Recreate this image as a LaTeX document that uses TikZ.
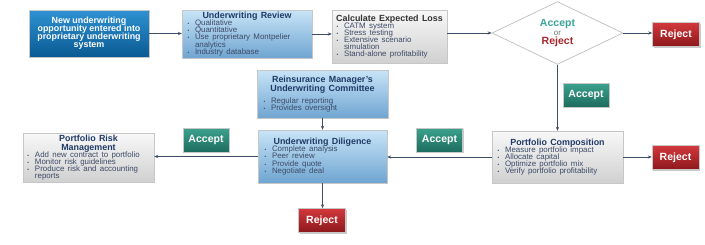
\documentclass[tikz,border=0pt]{standalone}
\usepackage{fontspec}
\setmainfont{Liberation Sans}
\usetikzlibrary{shapes.geometric,arrows.meta,shadows}
\definecolor{dkblueT}{HTML}{2E92D2}
\definecolor{dkblueB}{HTML}{0A5A92}
\definecolor{ltblueT}{HTML}{C8E4F7}
\definecolor{ltblueB}{HTML}{6FA5D1}
\definecolor{grayT}{HTML}{F8F8F8}
\definecolor{grayB}{HTML}{D0D0D0}
\definecolor{tealT}{HTML}{3BA28E}
\definecolor{tealB}{HTML}{1D6C5E}
\definecolor{redT}{HTML}{D2383C}
\definecolor{redB}{HTML}{8C181C}
\definecolor{navy}{HTML}{1F3A66}
\definecolor{bultxt}{HTML}{3C4A66}
\definecolor{linec}{HTML}{3E4D6A}
\definecolor{acctxt}{HTML}{3AA59B}
\definecolor{rejtxt}{HTML}{A8282C}
\lineskiplimit=-20pt
\newcommand{\ttl}[1]{{\centering\lineskiplimit=-20pt\fontsize{8.9}{8.6}\selectfont\bfseries #1\par}}
\newcommand{\itm}[1]{{\fontsize{7.9}{7.1}\selectfont\lineskiplimit=-20pt\hyphenpenalty=10000\hangindent=9pt\hangafter=1\noindent\makebox[9pt][l]{\hspace{1.5pt}\fontsize{5}{5}\selectfont\textbullet}#1\par}}
\begin{document}
\begin{tikzpicture}[x=1pt,y=-1pt,
  base/.style={rectangle, draw=black!22, line width=0.4pt, inner sep=0pt,
    drop shadow={shadow xshift=1.3pt, shadow yshift=-1.3pt, opacity=0.35, fill=black!60}},
  darkbox/.style={base, top color=dkblueT, bottom color=dkblueB, text=white, align=center,
    font=\fontsize{8.9}{8}\selectfont\bfseries},
  lightbox/.style={base, top color=ltblueT, bottom color=ltblueB, text=navy, align=left},
  graybox/.style={base, top color=grayT, bottom color=grayB, text=bultxt, align=left},
  acc/.style={base, top color=tealT, bottom color=tealB, text=white,
    font=\fontsize{10.5}{11}\selectfont\bfseries, minimum width=46pt, minimum height=24pt},
  rej/.style={base, top color=redT, bottom color=redB, text=white,
    font=\fontsize{10.5}{11}\selectfont\bfseries, minimum width=47pt, minimum height=24pt},
  conn/.style={draw=linec, line width=0.6pt, -{Stealth[length=4pt,width=3.2pt]}}
]
\useasboundingbox (0,0) rectangle (705,244);

\node[darkbox, minimum width=120pt, minimum height=47pt] (new) at (89,33.5)
  {New underwriting\\opportunity entered into\\proprietary underwriting\\system};

\node[lightbox, minimum width=130pt, minimum height=48pt, text width=122pt] (rev) at (247,34)
  {\ttl{Underwriting Review}\color{bultxt}\itm{Qualitative}\itm{Quantitative}\itm{Use proprietary Montpelier analytics}\itm{Industry database}};

\node[graybox, minimum width=115pt, minimum height=53pt, text width=109pt] (calc) at (389.5,36.5)
  {\ttl{\color{black!80}Calculate Expected Loss}\itm{CATM system}\itm{Stress testing}\itm{Extensive scenario simulation}\itm{Stand-alone profitability}};

\node[diamond, draw=black!25, line width=0.7pt, fill=white, minimum width=131pt, minimum height=50pt, inner sep=0pt, align=center, font=\fontsize{10.5}{9.2}\selectfont] (dia) at (557.5,33)
  {{\bfseries\color{acctxt}Accept}\\{\fontsize{8}{9.2}\selectfont\color{black!55}or}\\{\bfseries\color{rejtxt}Reject}};

\node[rej] (rej1) at (676,34.5) {Reject};
\node[acc] (acc1) at (586,95) {Accept};

\node[graybox, minimum width=131pt, minimum height=52pt, text width=123pt] (comp) at (557.5,157)
  {\ttl{\color{navy}Portfolio Composition}\itm{Measure portfolio impact}\itm{Allocate capital}\itm{Optimize portfolio mix}\itm{Verify portfolio profitability}};

\node[rej] (rej2) at (675.5,157.5) {Reject};

\node[lightbox, minimum width=131pt, minimum height=48pt, text width=121pt] (reins) at (322.5,94)
  {\ttl{Reinsurance Manager's\\Underwriting Committee}\vspace{5pt}\color{bultxt}\itm{Regular reporting}\itm{Provides oversight}};

\node[lightbox, minimum width=129pt, minimum height=53pt, text width=119pt] (dil) at (322.5,156.5)
  {\ttl{Underwriting Diligence}\color{bultxt}\itm{Complete analysis}\itm{Peer review}\itm{Provide quote}\itm{Negotiate deal}};

\node[acc] (acc2) at (439.5,140) {Accept};
\node[rej] (rej3) at (322,220.5) {Reject};

\node[graybox, minimum width=131pt, minimum height=49pt, text width=125pt] (risk) at (88.5,157.5)
  {\ttl{\color{navy}Portfolio Risk\\Management}\itm{Add new contract to portfolio}\itm{Monitor risk guidelines}\itm{Produce risk and accounting reports}};

\node[acc] (acc3) at (206,140) {Accept};

\draw[conn] (new.east) -- (new.east -| rev.west);
\draw[conn] (rev.east) -- (rev.east -| calc.west);
\draw[conn] (dia.west -| calc.east) -- (dia.west);
\draw[conn] (dia.east) -- (dia.east -| rej1.west);
\draw[conn] (dia.south) -- (dia.south |- comp.north);
\draw[conn] (comp.east) -- (comp.east -| rej2.west);
\draw[conn] (comp.west) -- (comp.west -| dil.east);
\draw[conn] (reins.south) -- (reins.south |- dil.north);
\draw[conn] (dil.south) -- (dil.south |- rej3.north);
\draw[conn] (dil.west) -- (dil.west -| risk.east);
\end{tikzpicture}
\end{document}
